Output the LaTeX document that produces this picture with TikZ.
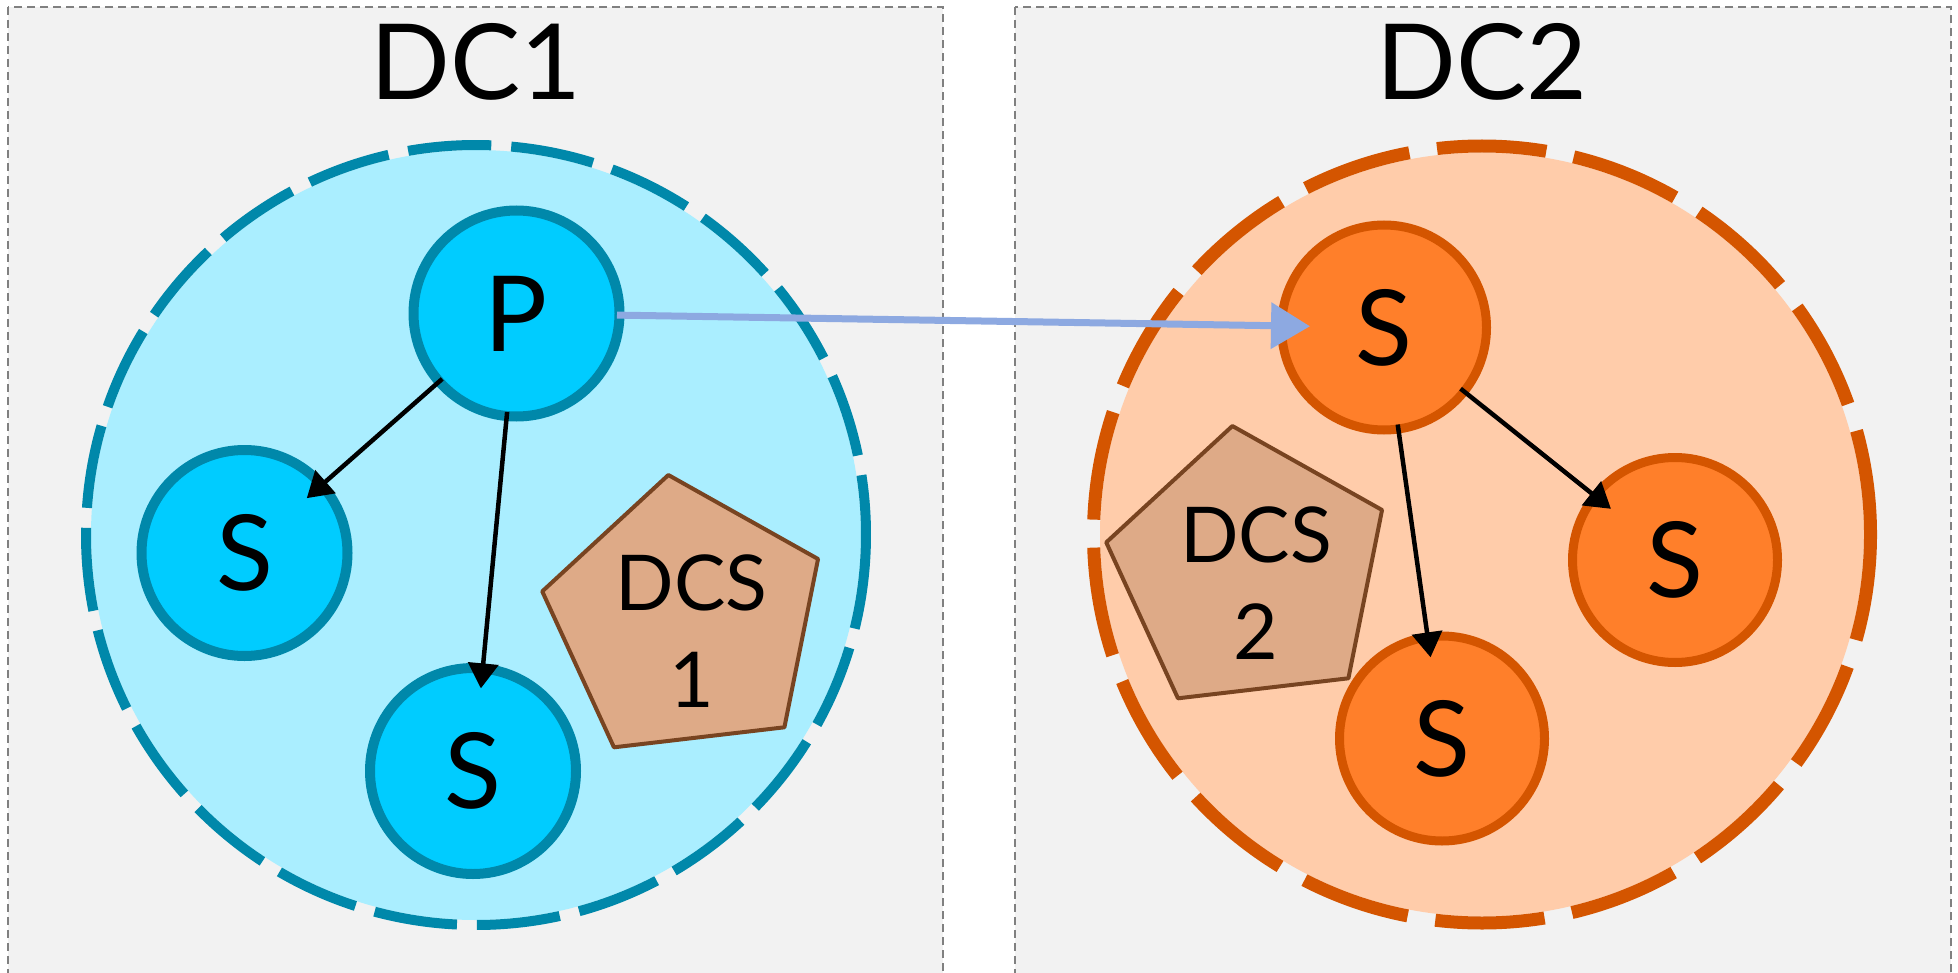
\documentclass[tikz,border=0pt]{standalone}
\usepackage{fontspec}
\setmainfont{Lato}
\usetikzlibrary{arrows.meta,shapes.geometric}

\definecolor{panelfill}{HTML}{F2F2F2}
\definecolor{panelline}{HTML}{808080}
\definecolor{bluezone}{HTML}{AAEEFF}
\definecolor{blueline}{HTML}{0088AA}
\definecolor{bluenode}{HTML}{00CCFF}
\definecolor{orangezone}{HTML}{FFCCAA}
\definecolor{orangeline}{HTML}{D45500}
\definecolor{orangenode}{HTML}{FF7F2A}
\definecolor{dcsfill}{HTML}{DEAA87}
\definecolor{dcsline}{HTML}{784421}
\definecolor{replink}{HTML}{8DA9E1}

\begin{document}
\begin{tikzpicture}[x=1pt,y=-1pt,
  panel/.style={fill=panelfill, draw=panelline, line width=1.5pt, dash pattern=on 8pt off 5pt},
  title/.style={font=\fontsize{105}{126}\selectfont, anchor=base, inner sep=0},
  replica/.style={circle, minimum size=#1, inner sep=0, font=\fontsize{105}{126}\selectfont},
  bluerep/.style={replica=206pt, fill=bluenode, draw=blueline, line width=10pt},
  orangerep/.style={replica=205pt, fill=orangenode, draw=orangeline, line width=9pt},
  dcs/.style={regular polygon, regular polygon sides=5, shape border rotate=6.7,
    minimum size=292pt, inner sep=0, outer sep=0, fill=dcsfill, draw=dcsline,
    line width=4pt, line join=round},
  dcslabel/.style={align=center, inner sep=0, font=\fontsize{77}{97}\selectfont},
  flow/.style={-{Triangle[length=25pt,width=30pt]}, line width=4.5pt,
    shorten <=-9pt, shorten >=-25pt},
  link/.style={-{Triangle[length=39pt,width=45pt]}, draw=replink, line width=7pt,
    shorten <=-7.5pt, shorten >=-33pt},
]
\useasboundingbox (0,0) rectangle (1958,973);

% data-centre panels
\begin{scope}
  \clip (0,0) rectangle (1958,973);
  \draw[panel] (8,7) rectangle (943,990);
  \draw[panel] (1015,7) rectangle (1951,990);
\end{scope}

% replica-set zones
\fill[bluezone] (476,535) circle[radius=385];
\draw[blueline, line width=10pt, dash pattern=on 83.46pt off 20pt, dash phase=7.46pt]
  ([shift={(2.34:390)}]476,535) arc[start angle=2.34, end angle=-357.66, radius=390];
\fill[orangezone] (1482,534.5) circle[radius=382];
\draw[orangeline, line width=13pt, dash pattern=on 109.6pt off 28pt, dash phase=4.6pt]
  ([shift={(0:388.5)}]1482,534.5) arc[start angle=0, end angle=-360, radius=388.5];

% titles
\node[title] (dc1) at (476,100) {DC1};
\node[title] (dc2) at (1482,100) {DC2};

% config servers
\node[dcs] (dcs1) at (685.4,620) {};
\node[dcslabel] (dcs1txt) at (691.5,631.3) {DCS\\1};
\node[dcs] (dcs2) at (1249.4,571) {};
\node[dcslabel] (dcs2txt) at (1256,583) {DCS\\2};

% members
\node[bluerep] (p) at (516.5,313.5) {P};
\node[bluerep] (s1) at (244.5,553) {S};
\node[bluerep] (s2) at (473,771) {S};
\node[orangerep] (t1) at (1384,327.5) {S};
\node[orangerep] (t2) at (1675,560) {S};
\node[orangerep] (t3) at (1442,738.5) {S};

% replication
\draw[flow] (p) -- (s1);
\draw[flow] (p) -- (s2);
\draw[flow] (t1) -- (t2);
\draw[flow] (t1) -- (t3);
\draw[link] (p) -- (t1);
\end{tikzpicture}
\end{document}
